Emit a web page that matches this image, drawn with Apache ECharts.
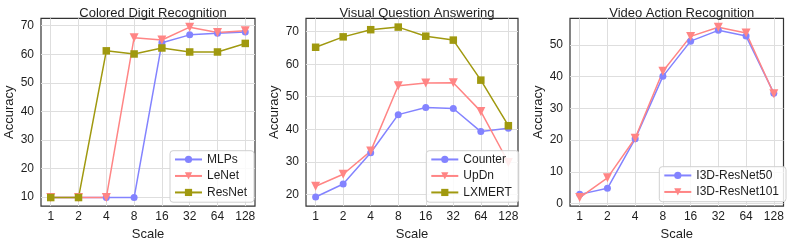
<!DOCTYPE html>
<html>
<head>
<meta charset="utf-8">
<script src="https://cdn.jsdelivr.net/npm/echarts@6/dist/echarts.min.js"></script>
<style>html,body{margin:0;padding:0;background:#fff}#c{width:789px;height:246px}</style>
</head>
<body>
<div id="c"></div>
<script>
const scales = ['1','2','4','8','16','32','64','128'];
const titles = ['Colored Digit Recognition','Visual Question Answering','Video Action Recognition'];
const mlps = [9.8,9.8,9.8,9.8,64.0,66.8,67.4,67.8];
const lenet = [9.8,9.8,9.8,65.8,65.0,69.5,67.6,68.2];
const resnet = [9.8,9.8,61.2,60.1,62.2,60.8,60.8,63.8];
const counter = [19.2,23.2,32.8,44.5,46.7,46.4,39.3,40.3];
const updn = [22.5,26.2,33.3,53.4,54.2,54.3,45.5,29.8];
const lxmert = [65.2,68.4,70.6,71.4,68.6,67.4,55.1,41.1];
const r50 = [2.9,4.8,20.4,40.1,51.2,54.6,52.8,34.8];
const r101 = [1.9,8.1,20.6,41.7,52.7,55.6,53.8,34.6];
const yTicks1 = [10,20,30,40,50,60,70];
const yTicks2 = [20,30,40,50,60,70];
const yTicks3 = [0,10,20,30,40,50];

const BLUE = '#8383ff', PINK = '#ff8585', OLIVE = '#a0990f';
const FONT = 'Liberation Sans, Arial, sans-serif';
const TXT = '#1e1e1e';
const xIdx = scales.map((s, i) => i);

const grids = [
  {left: 41, right: 534, top: 18.3, bottom: 36.7},
  {left: 306, right: 271, top: 18.3, bottom: 36.7},
  {left: 570, right: 5.5, top: 18.3, bottom: 37.3}
];
const yRanges = [[6.8, 72.6, yTicks1], [16.4, 74.1, yTicks2], [-0.8, 58.4, yTicks3]];

const option = {
  animation: false,
  textStyle: {fontFamily: FONT},
  title: grids.map((g, i) => {
    const w = 789 - g.left - g.right;
    return {
      text: titles[i], left: g.left + w / 2, top: 1.5, textAlign: 'center',
      textStyle: {fontFamily: FONT, fontSize: 13, fontWeight: 'normal', color: TXT}
    };
  }),
  grid: grids.map(g => Object.assign({show: true, borderColor: '#333', borderWidth: 1.2, backgroundColor: '#fff'}, g)),
  xAxis: grids.map((g, i) => ({
    type: 'value', gridIndex: i, min: -0.35, max: 7.35,
    name: 'Scale', nameLocation: 'middle', nameGap: 21,
    nameTextStyle: {fontFamily: FONT, fontSize: 13, color: TXT},
    axisLine: {show: false},
    axisTick: {show: false, customValues: xIdx},
    axisLabel: {customValues: xIdx, formatter: v => scales[Math.round(v)], fontFamily: FONT, fontSize: 12, color: TXT, margin: 5},
    splitLine: {show: true, lineStyle: {color: '#dedede', width: 1}}
  })),
  yAxis: grids.map((g, i) => ({
    type: 'value', gridIndex: i, min: yRanges[i][0], max: yRanges[i][1],
    name: 'Accuracy', nameLocation: 'middle', nameGap: 25,
    nameTextStyle: {fontFamily: FONT, fontSize: 13, color: TXT},
    axisLine: {show: false},
    axisTick: {show: false, customValues: yRanges[i][2]},
    axisLabel: {customValues: yRanges[i][2], fontFamily: FONT, fontSize: 12, color: TXT, margin: 7},
    splitLine: {show: true, lineStyle: {color: '#dedede', width: 1}}
  })),
  legend: [
    {names: ['MLPs','LeNet','ResNet'], left: 170, top: 150.7},
    {names: ['Counter','UpDn','LXMERT'], left: 426.3, top: 150.7},
    {names: ['I3D-ResNet50','I3D-ResNet101'], left: 659.3, top: 166.7}
  ].map(l => ({
    data: l.names, left: l.left, top: l.top, orient: 'vertical',
    itemWidth: 27, itemHeight: 9, itemGap: 3,
    padding: [2, 7, 3, 4],
    backgroundColor: 'rgba(255,255,255,0.85)', borderColor: '#d0d0d0', borderWidth: 1, borderRadius: 3,
    textStyle: {fontFamily: FONT, fontSize: 12, color: TXT, lineHeight: 13.5, padding: [0, 0, 0, 0]}
  })),
  series: []
};

function addSeries(name, vals, color, symbol, gi) {
  option.series.push({
    name: name, type: 'line', xAxisIndex: gi, yAxisIndex: gi,
    data: vals.map((v, i) => [i, v]),
    symbol: symbol, symbolSize: symbol === 'circle' ? 7 : (symbol === 'rect' ? 7.5 : 9),
    symbolRotate: symbol === 'triangle' ? 180 : 0,
    lineStyle: {color: color, width: 1.5},
    itemStyle: {color: color},
    emphasis: {disabled: true}
  });
}
addSeries('MLPs', mlps, BLUE, 'circle', 0);
addSeries('LeNet', lenet, PINK, 'triangle', 0);
addSeries('ResNet', resnet, OLIVE, 'rect', 0);
addSeries('Counter', counter, BLUE, 'circle', 1);
addSeries('UpDn', updn, PINK, 'triangle', 1);
addSeries('LXMERT', lxmert, OLIVE, 'rect', 1);
addSeries('I3D-ResNet50', r50, BLUE, 'circle', 2);
addSeries('I3D-ResNet101', r101, PINK, 'triangle', 2);

const chart = echarts.init(document.getElementById('c'), null, {renderer: 'canvas'});
chart.setOption(option);
</script>
</body>
</html>
